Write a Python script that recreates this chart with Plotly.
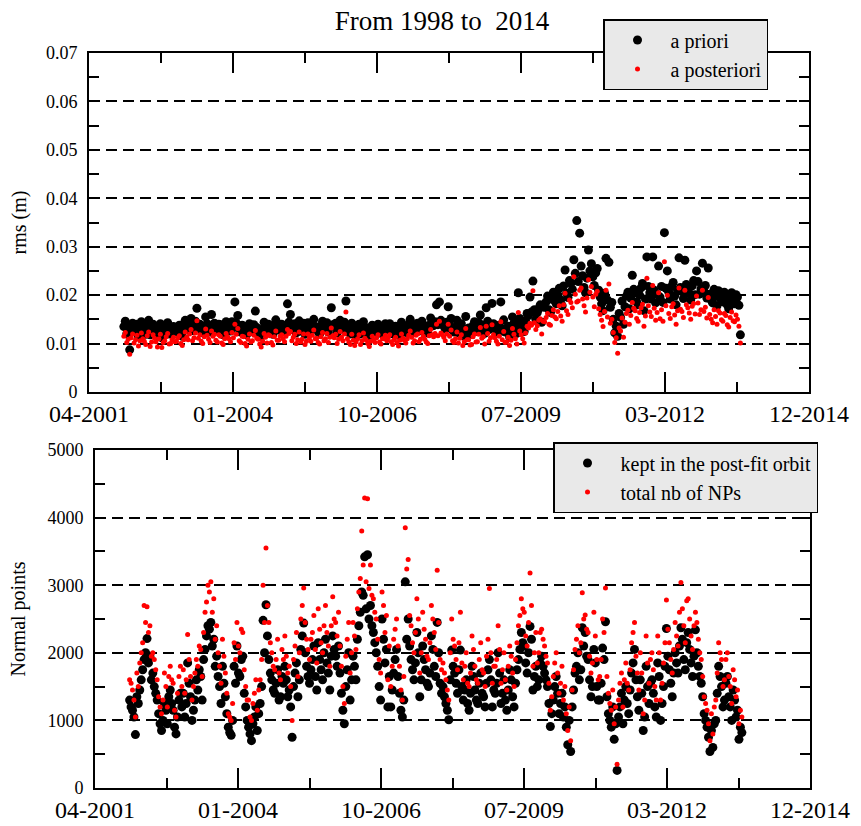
import numpy as np
import pandas as pd
import plotly.graph_objects as go

FONT = "Liberation Serif, Times New Roman, serif"

title_text = "From 1998 to \u00a02014"
first_arc = "2001-12-13"
arc_step_days = 365.25 / 36.0

# rms of residuals (m), one value per arc (36 arcs per row/year)
apriori = [
    0.0135, 0.0146, 0.0120, 0.0128, 0.0087, 0.0134, 0.0142, 0.0126, 0.0130, 0.0140, 0.0115, 0.0129, 0.0145, 0.0136, 0.0125, 0.0119, 0.0138, 0.0148, 0.0118, 0.0127, 0.0140, 0.0133, 0.0128, 0.0116, 0.0132, 0.0141, 0.0112, 0.0124, 0.0129, 0.0137, 0.0143, 0.0120, 0.0122, 0.0131, 0.0135, 0.0126,
    0.0125, 0.0132, 0.0138, 0.0121, 0.0115, 0.0129, 0.0148, 0.0136, 0.0128, 0.0143, 0.0152, 0.0127, 0.0135, 0.0146, 0.0173, 0.0134, 0.0140, 0.0128, 0.0122, 0.0135, 0.0155, 0.0141, 0.0130, 0.0124, 0.0160, 0.0138, 0.0142, 0.0129, 0.0126, 0.0140, 0.0139, 0.0123, 0.0118, 0.0133, 0.0145, 0.0137,
    0.0132, 0.0126, 0.0145, 0.0134, 0.0186, 0.0142, 0.0158, 0.0129, 0.0124, 0.0138, 0.0136, 0.0122, 0.0118, 0.0131, 0.0141, 0.0125, 0.0127, 0.0139, 0.0167, 0.0133, 0.0130, 0.0121, 0.0115, 0.0128, 0.0144, 0.0135, 0.0123, 0.0140, 0.0137, 0.0124, 0.0119, 0.0136, 0.0149, 0.0129, 0.0128, 0.0137,
    0.0140, 0.0132, 0.0125, 0.0138, 0.0182, 0.0144, 0.0160, 0.0129, 0.0136, 0.0141, 0.0122, 0.0130, 0.0147, 0.0126, 0.0131, 0.0142, 0.0119, 0.0128, 0.0143, 0.0135, 0.0128, 0.0140, 0.0150, 0.0133, 0.0134, 0.0125, 0.0120, 0.0137, 0.0146, 0.0129, 0.0133, 0.0143, 0.0124, 0.0136, 0.0174, 0.0139,
    0.0135, 0.0142, 0.0122, 0.0131, 0.0148, 0.0136, 0.0130, 0.0144, 0.0188, 0.0132, 0.0126, 0.0120, 0.0142, 0.0130, 0.0118, 0.0127, 0.0133, 0.0140, 0.0120, 0.0129, 0.0145, 0.0134, 0.0129, 0.0122, 0.0116, 0.0128, 0.0138, 0.0131, 0.0124, 0.0135, 0.0140, 0.0126, 0.0121, 0.0133, 0.0132, 0.0141,
    0.0128, 0.0134, 0.0141, 0.0127, 0.0120, 0.0130, 0.0136, 0.0124, 0.0117, 0.0129, 0.0144, 0.0133, 0.0129, 0.0123, 0.0132, 0.0140, 0.0150, 0.0136, 0.0123, 0.0128, 0.0139, 0.0142, 0.0126, 0.0131, 0.0146, 0.0137, 0.0131, 0.0125, 0.0122, 0.0138, 0.0153, 0.0141, 0.0137, 0.0145, 0.0180, 0.0139,
    0.0186, 0.0148, 0.0142, 0.0136, 0.0130, 0.0144, 0.0176, 0.0139, 0.0152, 0.0128, 0.0124, 0.0133, 0.0148, 0.0122, 0.0135, 0.0141, 0.0116, 0.0126, 0.0156, 0.0130, 0.0132, 0.0119, 0.0120, 0.0137, 0.0145, 0.0125, 0.0127, 0.0143, 0.0159, 0.0134, 0.0138, 0.0121, 0.0174, 0.0146, 0.0129, 0.0135,
    0.0183, 0.0141, 0.0135, 0.0127, 0.0122, 0.0138, 0.0186, 0.0130, 0.0149, 0.0124, 0.0128, 0.0136, 0.0114, 0.0129, 0.0155, 0.0142, 0.0132, 0.0121, 0.0205, 0.0152, 0.0140, 0.0133, 0.0125, 0.0146, 0.0162, 0.0158, 0.0196, 0.0165, 0.0229, 0.0170, 0.0150, 0.0164, 0.0172, 0.0180, 0.0144, 0.0176,
    0.0175, 0.0186, 0.0198, 0.0170, 0.0164, 0.0192, 0.0206, 0.0188, 0.0182, 0.0201, 0.0214, 0.0190, 0.0178, 0.0219, 0.0252, 0.0204, 0.0195, 0.0230, 0.0225, 0.0212, 0.0273, 0.0245, 0.0354, 0.0228, 0.0328, 0.0260, 0.0240, 0.0216, 0.0205, 0.0235, 0.0293, 0.0250, 0.0265, 0.0238, 0.0220, 0.0246,
    0.0255, 0.0210, 0.0196, 0.0182, 0.0168, 0.0204, 0.0276, 0.0190, 0.0268, 0.0175, 0.0185, 0.0150, 0.0122, 0.0136, 0.0115, 0.0162, 0.0154, 0.0188, 0.0140, 0.0176, 0.0198, 0.0206, 0.0172, 0.0194, 0.0241, 0.0212, 0.0205, 0.0186, 0.0180, 0.0200, 0.0215, 0.0224, 0.0168, 0.0192, 0.0279, 0.0218,
    0.0205, 0.0192, 0.0279, 0.0210, 0.0184, 0.0202, 0.0260, 0.0196, 0.0218, 0.0185, 0.0329, 0.0214, 0.0250, 0.0206, 0.0192, 0.0218, 0.0226, 0.0198, 0.0180, 0.0209, 0.0277, 0.0216, 0.0208, 0.0193, 0.0272, 0.0222, 0.0215, 0.0204, 0.0190, 0.0219, 0.0230, 0.0201, 0.0250, 0.0228, 0.0202, 0.0213,
    0.0266, 0.0208, 0.0220, 0.0194, 0.0256, 0.0202, 0.0190, 0.0184, 0.0212, 0.0197, 0.0178, 0.0209, 0.0203, 0.0189, 0.0186, 0.0206, 0.0198, 0.0180, 0.0172, 0.0195, 0.0205, 0.0190, 0.0182, 0.0201, 0.0196, 0.0179, 0.0118,
]
aposteriori = [
    0.0115, 0.0123, 0.0102, 0.0109, 0.0078, 0.0112, 0.0120, 0.0101, 0.0108, 0.0117, 0.0095, 0.0106, 0.0122, 0.0110, 0.0105, 0.0098, 0.0116, 0.0124, 0.0094, 0.0103, 0.0118, 0.0111, 0.0104, 0.0093, 0.0110, 0.0119, 0.0092, 0.0102, 0.0106, 0.0114, 0.0121, 0.0099, 0.0100, 0.0108, 0.0113, 0.0104,
    0.0105, 0.0112, 0.0116, 0.0100, 0.0096, 0.0108, 0.0124, 0.0113, 0.0108, 0.0120, 0.0129, 0.0106, 0.0112, 0.0122, 0.0147, 0.0111, 0.0118, 0.0105, 0.0100, 0.0114, 0.0130, 0.0117, 0.0109, 0.0102, 0.0126, 0.0115, 0.0119, 0.0107, 0.0103, 0.0118, 0.0115, 0.0101, 0.0098, 0.0110, 0.0121, 0.0114,
    0.0110, 0.0104, 0.0123, 0.0112, 0.0140, 0.0119, 0.0131, 0.0106, 0.0102, 0.0115, 0.0114, 0.0100, 0.0095, 0.0109, 0.0120, 0.0103, 0.0106, 0.0117, 0.0127, 0.0111, 0.0109, 0.0099, 0.0093, 0.0105, 0.0121, 0.0113, 0.0101, 0.0118, 0.0116, 0.0102, 0.0097, 0.0114, 0.0126, 0.0107, 0.0107, 0.0115,
    0.0118, 0.0110, 0.0104, 0.0115, 0.0129, 0.0121, 0.0125, 0.0106, 0.0113, 0.0119, 0.0100, 0.0108, 0.0124, 0.0103, 0.0109, 0.0120, 0.0098, 0.0105, 0.0120, 0.0112, 0.0105, 0.0117, 0.0128, 0.0110, 0.0111, 0.0102, 0.0099, 0.0114, 0.0123, 0.0106, 0.0110, 0.0121, 0.0102, 0.0113, 0.0132, 0.0116,
    0.0112, 0.0119, 0.0100, 0.0109, 0.0125, 0.0113, 0.0106, 0.0120, 0.0165, 0.0110, 0.0103, 0.0098, 0.0119, 0.0107, 0.0096, 0.0104, 0.0110, 0.0118, 0.0098, 0.0106, 0.0122, 0.0111, 0.0107, 0.0100, 0.0094, 0.0105, 0.0115, 0.0108, 0.0102, 0.0112, 0.0118, 0.0103, 0.0099, 0.0110, 0.0110, 0.0117,
    0.0106, 0.0112, 0.0118, 0.0104, 0.0098, 0.0108, 0.0113, 0.0102, 0.0095, 0.0107, 0.0120, 0.0111, 0.0107, 0.0101, 0.0110, 0.0117, 0.0126, 0.0113, 0.0101, 0.0106, 0.0117, 0.0120, 0.0104, 0.0109, 0.0123, 0.0115, 0.0109, 0.0103, 0.0100, 0.0116, 0.0129, 0.0118, 0.0114, 0.0121, 0.0140, 0.0116,
    0.0146, 0.0122, 0.0118, 0.0113, 0.0106, 0.0120, 0.0140, 0.0115, 0.0128, 0.0106, 0.0102, 0.0110, 0.0124, 0.0101, 0.0111, 0.0118, 0.0096, 0.0104, 0.0131, 0.0108, 0.0108, 0.0097, 0.0098, 0.0114, 0.0120, 0.0103, 0.0104, 0.0119, 0.0133, 0.0111, 0.0114, 0.0099, 0.0136, 0.0121, 0.0105, 0.0112,
    0.0139, 0.0118, 0.0112, 0.0105, 0.0099, 0.0115, 0.0145, 0.0108, 0.0125, 0.0102, 0.0104, 0.0113, 0.0096, 0.0107, 0.0131, 0.0119, 0.0110, 0.0099, 0.0164, 0.0126, 0.0118, 0.0110, 0.0101, 0.0122, 0.0136, 0.0132, 0.0142, 0.0138, 0.0209, 0.0143, 0.0129, 0.0137, 0.0148, 0.0151, 0.0120, 0.0146,
    0.0145, 0.0154, 0.0162, 0.0140, 0.0138, 0.0158, 0.0170, 0.0155, 0.0151, 0.0166, 0.0178, 0.0157, 0.0146, 0.0180, 0.0204, 0.0168, 0.0160, 0.0190, 0.0185, 0.0174, 0.0238, 0.0202, 0.0186, 0.0188, 0.0210, 0.0215, 0.0192, 0.0178, 0.0165, 0.0194, 0.0232, 0.0206, 0.0218, 0.0196, 0.0176, 0.0202,
    0.0208, 0.0172, 0.0160, 0.0148, 0.0135, 0.0166, 0.0210, 0.0155, 0.0223, 0.0142, 0.0150, 0.0123, 0.0102, 0.0112, 0.0080, 0.0132, 0.0126, 0.0153, 0.0113, 0.0144, 0.0162, 0.0169, 0.0140, 0.0158, 0.0185, 0.0173, 0.0168, 0.0152, 0.0146, 0.0164, 0.0174, 0.0181, 0.0136, 0.0157, 0.0235, 0.0178,
    0.0165, 0.0156, 0.0220, 0.0173, 0.0148, 0.0164, 0.0205, 0.0151, 0.0170, 0.0146, 0.0269, 0.0178, 0.0200, 0.0162, 0.0152, 0.0176, 0.0182, 0.0159, 0.0140, 0.0168, 0.0215, 0.0171, 0.0166, 0.0154, 0.0210, 0.0180, 0.0174, 0.0163, 0.0150, 0.0177, 0.0183, 0.0161, 0.0198, 0.0184, 0.0160, 0.0170,
    0.0210, 0.0166, 0.0175, 0.0153, 0.0195, 0.0160, 0.0150, 0.0143, 0.0170, 0.0156, 0.0140, 0.0168, 0.0163, 0.0149, 0.0146, 0.0162, 0.0158, 0.0139, 0.0134, 0.0154, 0.0165, 0.0147, 0.0145, 0.0159, 0.0150, 0.0136, 0.0101,
]

# number of normal points per arc
kept = [
    1300, 1200, 1150, 1050, 790, 1350, 1250, 1450, 1600, 1750, 1900, 2000, 2210, 1850, 1950, 1600, 1700, 1500, 1400, 1300, 1100, 950, 850, 1000, 1250, 1150, 950, 1350, 1450, 1250, 1150, 900, 800, 1050, 1300, 1400,
    1200, 1400, 1050, 1250, 1850, 1550, 1350, 1000, 1150, 1300, 1600, 1450, 1750, 1650, 1300, 1900, 2050, 2250, 2400, 2350, 2450, 2100, 2200, 1800, 1950, 1650, 1500, 1250, 1800, 1550, 1350, 1100, 900, 820, 780, 1000,
    1800, 1550, 2100, 1700, 1650, 1900, 1950, 1400, 1200, 1000, 900, 800, 700, 950, 1050, 1200, 850, 1100, 1250, 1500, 2480, 2000, 2710, 2250, 1900, 1700, 1600, 1450, 1400, 1550, 1750, 1300, 1350, 1650, 1550, 1800,
    1600, 1350, 1450, 1200, 750, 1500, 1700, 1850, 1350, 1600, 2050, 2250, 2440, 2000, 1800, 1650, 1550, 1750, 1900, 2100, 1650, 1450, 2150, 1900, 1750, 1600, 2000, 2200, 1850, 1700, 1450, 1950, 2250, 2050, 1950, 1800,
    2100, 1700, 1400, 1150, 950, 1500, 1750, 2000, 1300, 1600, 1950, 1800, 1600, 2200, 2400, 2600, 2900, 2850, 3420, 2650, 3450, 2500, 2700, 2400, 2300, 2150, 2000, 1800, 1500, 1300, 2500, 2200, 1850, 2050, 1200, 1650,
    1200, 1450, 1700, 1900, 2050, 1650, 1400, 1150, 1050, 1300, 3050, 2200, 2500, 2100, 1900, 1750, 1600, 1850, 2300, 2000, 1350, 1600, 2100, 1900, 1750, 1550, 1500, 1700, 2250, 2050, 1800, 1650, 2450, 2000, 1550, 1400,
    1500, 1350, 1250, 1150, 1010, 1600, 2040, 1800, 1700, 1550, 1400, 1750, 2040, 1500, 1300, 1450, 1600, 1250, 1150, 1400, 1800, 1650, 1450, 1300, 1250, 1550, 1700, 1400, 1350, 1200, 1550, 1750, 1900, 1600, 1200, 1450,
    1400, 1550, 2000, 1700, 1250, 1400, 1600, 1300, 1150, 1450, 1750, 1600, 1350, 1200, 1550, 1750, 1900, 2050, 2300, 2150, 2100, 1850, 1700, 2000, 2390, 2200, 1450, 1650, 1800, 1500, 1600, 1850, 1950, 1800, 1700, 1600,
    1500, 1250, 910, 1100, 1300, 1500, 1650, 1400, 1100, 1250, 1400, 1050, 1200, 900, 640, 1000, 540, 1200, 1450, 1700, 1800, 2000, 1600, 1750, 2370, 2100, 2300, 1950, 1900, 1600, 1350, 1500, 2050, 1850, 1500, 1300,
    1300, 1550, 2070, 1900, 2460, 1350, 1100, 1000, 900, 1200, 720, 950, 260, 1050, 1200, 1400, 950, 1300, 1500, 1250, 1100, 1450, 1700, 1850, 2050, 1600, 1350, 1150, 1600, 1400, 850, 1050, 1800, 1500, 1250, 1550,
    1600, 1400, 1200, 1050, 1850, 1650, 1000, 1250, 1500, 1800, 2360, 1950, 1750, 1550, 1350, 1700, 2000, 1850, 1700, 2100, 2370, 2200, 1900, 1750, 2150, 2300, 2050, 1850, 1650, 1950, 2340, 2000, 1800, 1650, 1550, 1350,
    1100, 1000, 900, 750, 540, 850, 600, 950, 1000, 1400, 1800, 1650, 1500, 1200, 1300, 1550, 1650, 1350, 1200, 1000, 1450, 1300, 1050, 1150, 720, 900, 820,
]
total = [
    1600, 1550, 1450, 1300, 1050, 1700, 1500, 1850, 2000, 2150, 2700, 2450, 2680, 2300, 2400, 1950, 2000, 1900, 1750, 1600, 1350, 1200, 1100, 1300, 1700, 1500, 1200, 1650, 1800, 1600, 1550, 1150, 1050, 1400, 1650, 1800,
    1500, 1750, 1400, 1600, 2270, 1900, 1650, 1300, 1500, 1700, 1900, 1800, 2100, 2050, 1650, 2300, 2600, 2750, 3000, 2900, 3050, 2600, 2800, 2200, 2400, 2000, 1800, 1550, 2200, 1950, 1700, 1400, 1100, 1050, 1000, 1250,
    2150, 1900, 2450, 2100, 2000, 2350, 2300, 1750, 1500, 1300, 1300, 1050, 1000, 1250, 1400, 1600, 1150, 1450, 1600, 1900, 3000, 2450, 3550, 2700, 2450, 2150, 2000, 1800, 1750, 1900, 2200, 1700, 1600, 2050, 1900, 2250,
    1950, 1700, 1800, 1500, 1000, 1900, 2100, 2300, 1650, 2000, 2500, 2700, 2960, 2450, 2200, 2050, 1900, 2200, 2300, 2550, 2050, 1850, 2650, 2350, 2150, 2000, 2400, 2700, 2300, 2100, 1800, 2400, 2830, 2500, 2450, 2250,
    2600, 2100, 1800, 1500, 1250, 1950, 2200, 2450, 1700, 2000, 2450, 2250, 2050, 2650, 2900, 3100, 3800, 3300, 4290, 3050, 4280, 2950, 3300, 2850, 2800, 2600, 2500, 2200, 1900, 1700, 2900, 2700, 2300, 2550, 1600, 2100,
    1500, 1800, 2200, 2350, 2500, 2100, 1800, 1450, 1300, 1650, 3850, 3240, 3380, 2550, 2400, 2150, 2000, 2300, 2800, 2500, 1700, 2000, 2600, 2350, 2200, 1950, 1900, 2150, 2700, 2500, 2300, 2050, 3220, 2450, 1900, 1750,
    1850, 1700, 1600, 1450, 1300, 2000, 2500, 2200, 2100, 1900, 1750, 2150, 2600, 1850, 1600, 1800, 2000, 1550, 1500, 1700, 2250, 2050, 1800, 1600, 1550, 1900, 2150, 1750, 1700, 1500, 1950, 2200, 2950, 2000, 1550, 1800,
    1800, 1900, 2400, 2050, 1550, 1750, 2000, 1600, 1450, 1800, 2100, 1950, 1700, 1500, 1900, 2150, 2400, 2550, 2800, 2650, 2600, 2250, 2100, 2450, 3180, 2700, 1800, 2000, 2300, 1850, 2000, 2300, 2350, 2200, 2100, 1950,
    1850, 1550, 1150, 1350, 1650, 1850, 2000, 1700, 1400, 1550, 1800, 1300, 1500, 1100, 850, 1200, 700, 1450, 1750, 2050, 2200, 2400, 2000, 2150, 2890, 2500, 2560, 2350, 2300, 1950, 1700, 1850, 2600, 2250, 1900, 1600,
    1650, 1900, 2500, 2300, 2960, 1650, 1400, 1250, 1150, 1450, 950, 1200, 350, 1300, 1550, 1700, 1200, 1600, 1850, 1550, 1450, 1750, 2150, 2300, 2450, 1950, 1700, 1450, 2000, 1700, 1100, 1300, 2250, 1850, 1550, 1900,
    2000, 1750, 1500, 1300, 2250, 2000, 1300, 1550, 1850, 2150, 2780, 2350, 2150, 1900, 1700, 2050, 2450, 2250, 2100, 2600, 3040, 2650, 2400, 2150, 2770, 2800, 2500, 2250, 2050, 2400, 2600, 2450, 2200, 2000, 1900, 1650,
    1350, 1250, 1150, 950, 700, 1100, 800, 1200, 1300, 1700, 2150, 2000, 1900, 1500, 1600, 1900, 2000, 1650, 1500, 1250, 1750, 1600, 1350, 1450, 950, 1150, 1050,
]

tick_labels = ["04-2001", "01-2004", "10-2006", "07-2009", "03-2012", "12-2014"]
axis_start = pd.Timestamp("2001-04-15")
tick_step_days = 1000


def arc_dates(values):
    return pd.Timestamp(first_arc) + pd.to_timedelta(np.arange(len(values)) * arc_step_days, unit="D")


tick_dates = [axis_start + pd.Timedelta(days=tick_step_days * k) for k in range(len(tick_labels))]
minor_dates = [axis_start + pd.Timedelta(days=tick_step_days * k + tick_step_days / 2) for k in range(len(tick_labels) - 1)]
x_range = [tick_dates[0], tick_dates[-1]]

fig = go.Figure()
fig.add_trace(go.Scatter(x=arc_dates(apriori), y=apriori, mode="markers", name="a priori",
                         marker=dict(color="black", size=9, line=dict(width=0)),
                         xaxis="x", yaxis="y", legend="legend"))
fig.add_trace(go.Scatter(x=arc_dates(aposteriori), y=aposteriori, mode="markers", name="a posteriori",
                         marker=dict(color="#ff0000", size=5, line=dict(width=0)),
                         xaxis="x", yaxis="y", legend="legend"))
fig.add_trace(go.Scatter(x=arc_dates(kept), y=kept, mode="markers", name="kept in the post-fit orbit",
                         marker=dict(color="black", size=9, line=dict(width=0)),
                         xaxis="x2", yaxis="y2", legend="legend2"))
fig.add_trace(go.Scatter(x=arc_dates(total), y=total, mode="markers", name="total nb of NPs",
                         marker=dict(color="#ff0000", size=5, line=dict(width=0)),
                         xaxis="x2", yaxis="y2", legend="legend2"))

W, H = 861, 826


def px_dom(a, b, total_px, flip=False):
    if flip:
        return [(total_px - b) / total_px, (total_px - a) / total_px]
    return [a / total_px, b / total_px]


xcommon = dict(type="date", range=x_range, tickmode="array", tickvals=tick_dates, ticktext=tick_labels,
               ticks="inside", ticklen=20, tickwidth=1.5, tickcolor="black",
               minor=dict(tickmode="array", tickvals=minor_dates, ticks="inside", ticklen=10,
                          tickwidth=1.5, tickcolor="black", showgrid=False),
               showline=True, linecolor="black", linewidth=2, mirror="ticks", showgrid=False,
               zeroline=False, automargin=False, ticklabelstandoff=-1,
               tickfont=dict(family=FONT, size=24, color="black"))
ycommon = dict(ticks="inside", ticklen=10, tickwidth=1.5, tickcolor="black",
               showline=True, linecolor="black", linewidth=2, mirror="ticks",
               showgrid=True, gridcolor="black", gridwidth=1.8, griddash="11px,6px",
               zeroline=False, automargin=False, tickfont=dict(family=FONT, size=18, color="black"),
               ticklabelstandoff=6)

fig.update_layout(
    width=W, height=H, margin=dict(l=0, r=0, t=0, b=0, autoexpand=False),
    paper_bgcolor="white", plot_bgcolor="white",
    font=dict(family=FONT, color="black"),
    title=dict(text=title_text, x=442 / W, xanchor="center", y=1 - 21 / H, yanchor="middle",
               font=dict(family=FONT, size=27, color="black")),
    xaxis=dict(domain=px_dom(89, 809, W), anchor="y", **xcommon),
    yaxis=dict(domain=px_dom(53, 392, H, flip=True), anchor="x", range=[0, 0.07], dtick=0.01, tick0=0,
               minor=dict(dtick=0.005, ticks="inside", ticklen=10, tickwidth=1.5, tickcolor="black", showgrid=False),
               title=dict(text="rms (m)", font=dict(family=FONT, size=20, color="black"), standoff=14),
               **ycommon),
    xaxis2=dict(domain=px_dom(95, 810, W), anchor="y2", **xcommon),
    yaxis2=dict(domain=px_dom(450, 788, H, flip=True), anchor="x2", range=[0, 5000], dtick=1000, tick0=0,
                minor=dict(dtick=500, ticks="inside", ticklen=10, tickwidth=1.5, tickcolor="black", showgrid=False),
                title=dict(text="Normal points", font=dict(family=FONT, size=20, color="black"), standoff=16),
                **ycommon),
    legend=dict(x=603 / W, y=1 - 19 / H, xanchor="left", yanchor="top", bgcolor="#e9e9e9",
                bordercolor="black", borderwidth=1.5, font=dict(family=FONT, size=20, color="black"),
                itemwidth=56, tracegroupgap=0),
    legend2=dict(x=553 / W, y=1 - 442 / H, xanchor="left", yanchor="top", bgcolor="#e9e9e9",
                 bordercolor="black", borderwidth=1.5, font=dict(family=FONT, size=20, color="black"),
                 itemwidth=56, tracegroupgap=0),
    showlegend=True,
)

fig.write_html("out.html")
